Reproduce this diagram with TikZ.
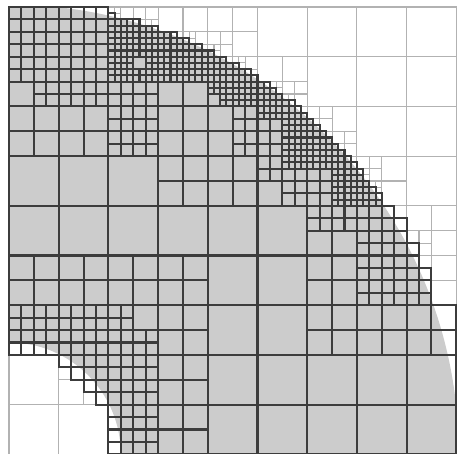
\documentclass[tikz,border=0pt]{standalone}
\usetikzlibrary{backgrounds}
\definecolor{ringgray}{RGB}{204,204,204}
\definecolor{celldark}{RGB}{60,60,60}
\definecolor{celllight}{RGB}{178,178,178}
\tikzset{
  cellin/.style  = {draw=celldark, line width=0.95pt},
  cellout/.style = {draw=celllight, line width=0.5pt},
}
\pgfdeclarelayer{ring}
\pgfdeclarelayer{faint}
\pgfsetlayers{ring,faint,main}
% radii of the ring, in fine cells (the square is 72 x 72)
\def\Rout{72}
\def\Rin{18}
% mark a cell (a, b, size) as split, together with all cells above it
\newcommand\splitcell[3]{%
  \expandafter\gdef\csname qr:#1:#2:#3\endcsname{}%
  \ifnum#3<8
    \pgfmathtruncatemacro\pa{2*#3*floor(#1/(2*#3))}%
    \pgfmathtruncatemacro\pb{2*#3*floor(#2/(2*#3))}%
    \pgfmathtruncatemacro\ps{2*#3}%
    \edef\up{\noexpand\splitcell{\pa}{\pb}{\ps}}\up
  \fi}
% draw a cell: split it, or outline it dark if it meets the ring
\newcommand\qcell[3]{%
  \ifcsname qr:#1:#2:#3\endcsname
    \pgfmathtruncatemacro\hs{#3/2}%
    \pgfmathtruncatemacro\ax{#1+\hs}%
    \pgfmathtruncatemacro\bx{#2+\hs}%
    \edef\kids{\noexpand\qcell{#1}{#2}{\hs}\noexpand\qcell{\ax}{#2}{\hs}%
      \noexpand\qcell{#1}{\bx}{\hs}\noexpand\qcell{\ax}{\bx}{\hs}}%
    \kids
  \else
    \pgfmathtruncatemacro\isin{((#1)^2+(72-#2-#3)^2<\Rout^2)
      && ((#1+#3)^2+(72-#2)^2>\Rin^2)}%
    \ifnum\isin=1
      \draw[cellin] (#1,#2) rectangle ++(#3,#3);
    \else
      \begin{pgfonlayer}{faint}
        \draw[cellout] (#1,#2) rectangle ++(#3,#3);
      \end{pgfonlayer}
    \fi
  \fi}

\begin{document}
\begin{tikzpicture}[x=0.1cm, y=-0.1cm]
  \useasboundingbox (-1.449,-1.127) rectangle (72.596,71.79);
  \clip (-1.449,-1.127) rectangle (72.596,71.79);

  % coarse cells split into quarters
  \foreach \a/\b in {0/16, 8/16, 24/16, 24/24, 32/24, 0/40, 8/40, 16/40,
                     24/40, 48/40, 24/48, 48/48, 56/48, 64/48, 24/56, 24/64,
                     64/32, 64/40, 56/24, 40/8, 32/16, 48/16, 40/24}
    {\splitcell{\a}{\b}{8}}
  % quarters split again
  \foreach \a/\b in {0/0, 4/0, 0/4, 4/4, 8/0, 12/0, 8/4, 12/4,
                     0/8, 4/8, 4/12, 8/8, 12/8, 8/12, 12/12,
                     16/12, 20/12, 16/16, 20/16, 16/20, 20/20,
                     36/16, 36/20, 40/16, 40/20, 40/24, 44/28, 48/20, 52/20,
                     48/28, 48/32, 52/32, 56/32, 60/32, 56/36, 60/36, 64/36,
                     56/40, 60/40, 56/44, 60/44, 64/40, 64/44,
                     0/48, 4/48, 0/52, 4/52, 8/48, 12/48, 8/52, 12/52,
                     16/48, 16/52, 20/52, 8/56, 12/56, 12/60,
                     16/56, 20/56, 16/60, 20/60, 16/64, 20/64, 16/68, 20/68}
    {\splitcell{\a}{\b}{4}}
  % finest cells along the rim
  \foreach \a/\b in {16/0, 16/2, 16/4, 16/6, 16/8, 16/10,
                     18/2, 18/4, 18/6, 18/8, 18/10,
                     20/2, 20/4, 20/6, 20/10,
                     22/2, 22/4, 22/6, 22/8, 22/10,
                     24/4, 24/6, 24/8, 24/10, 26/4, 26/6, 26/8, 26/10,
                     28/4, 28/6, 28/8, 28/10, 30/6, 30/8, 30/10,
                     32/6, 32/8, 32/10, 32/12, 34/8, 34/10, 34/12, 34/14,
                     36/8, 36/10, 36/12, 36/14, 38/10, 38/12, 38/14,
                     40/12, 40/14, 40/16, 42/12, 42/14, 42/16,
                     44/14, 44/16, 44/18, 44/20, 44/22, 44/24,
                     46/16, 46/18, 46/20, 46/22, 46/24,
                     48/18, 48/20, 48/22, 48/24, 50/20, 50/22, 50/24,
                     52/22, 52/24, 52/26, 52/28, 52/30,
                     54/24, 54/26, 54/28, 54/30,
                     56/26, 56/28, 56/30, 58/28, 58/30}
    {\splitcell{\a}{\b}{2}}

  % the ring
  \begin{pgfonlayer}{ring}
    \begin{scope}
      \clip (0,0) rectangle (72,72);
      \fill[ringgray, even odd rule] (0,72) circle[radius=72.4]
                                     (0,72) circle[radius=\Rin];
    \end{scope}
  \end{pgfonlayer}

  % the mesh
  \foreach \a in {0,8,...,64}
    \foreach \b in {0,8,...,64}
      {\qcell{\a}{\b}{8}}
\end{tikzpicture}
\end{document}
